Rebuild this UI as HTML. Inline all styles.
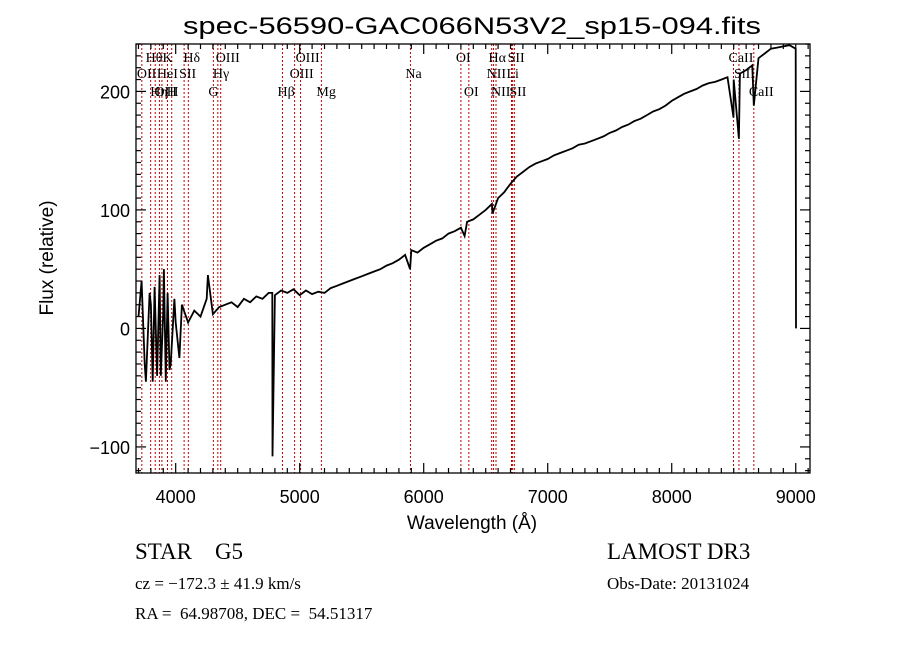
<!DOCTYPE html>
<html><head><meta charset="utf-8"><style>
html,body{margin:0;padding:0;background:#fff;}
svg{display:block;}
text{fill:#000;white-space:pre;}
</style></head><body>
<svg id="chart" width="900" height="649" viewBox="0 0 900 649" xmlns="http://www.w3.org/2000/svg">
<rect width="900" height="649" fill="#fff"/>
<text x="472" y="34" text-anchor="middle" font-family="Liberation Sans, sans-serif" font-size="24" textLength="578" lengthAdjust="spacingAndGlyphs">spec-56590-GAC066N53V2_sp15-094.fits</text>
<g id="lines"></g>
<g id="labels"></g>
<path id="spec" fill="none" stroke="#000" stroke-width="1.8"/>
<g id="axes"></g>
<text x="472" y="529" text-anchor="middle" font-family="Liberation Sans, sans-serif" font-size="19">Wavelength (Å)</text>
<text transform="translate(53,258) rotate(-90)" text-anchor="middle" font-family="Liberation Sans, sans-serif" font-size="19">Flux (relative)</text>
<text x="135" y="559" font-family="Liberation Serif, serif" font-size="23" xml:space="preserve">STAR    G5</text>
<text x="607" y="559" font-family="Liberation Serif, serif" font-size="23">LAMOST DR3</text>
<text x="135" y="589" font-family="Liberation Serif, serif" font-size="17">cz = −172.3 ± 41.9 km/s</text>
<text x="607" y="589" font-family="Liberation Serif, serif" font-size="17">Obs-Date: 20131024</text>
<text x="135" y="619" font-family="Liberation Serif, serif" font-size="17" xml:space="preserve">RA =  64.98708, DEC =  54.51317</text>
</svg>
<script>
const wlStart = 3700, wlStep = 50;
const flux = [10,-30,20,-40,15,-35,5,20,5,15,10,25,12,18,20,22,18,25,22,27,25,30,28,32,30,33,28,32,29,31,30,34,36,38,40,42,44,46,48,50,53,55,58,62,66,64,68,71,74,76,80,82,85,90,92,96,100,105,110,115,122,128,132,136,139,141,143,146,148,150,152,155,156,158,160,162,165,167,170,172,175,177,180,183,185,188,192,195,198,200,202,205,207,208,210,212,210,215,218,222,228,232,236,237,238,239,236];
const spikeWl = [3725,3760,3790,3815,3830,3870,3880,3905,3920,3935,3960,3990,4030,4260,4779,4781,5890,6330,6555,8498,8542,8662,9000,9002];
const spikeFlux = [40,-45,30,-45,35,45,-40,50,-45,30,-30,25,-25,45,30,-108,50,78,97,178,160,188,236,0];
const lineWl = [3727,3798,3835,3869,3889,3934,3968,4068,4102,4304,4340,4363,4861,4959,5007,5175,5893,6300,6364,6548,6563,6583,6708,6717,6731,8498,8542,8662];
const lineLab = ["OII","Hθ","Hη","OIII","HeI","K","H","SII","Hδ","G","Hγ","OIII","Hβ","OIII","OIII","Mg","Na","OI","OI","NII","Hα","NII","Li","SII","SII","CaII","SiII","CaII"];
const lineRow = [1,0,2,2,1,0,2,1,0,2,1,0,2,1,0,2,1,0,2,1,0,2,1,0,2,0,1,2];
const xTicks = [4000,5000,6000,7000,8000,9000];
const yTicks = [-100,0,100,200];

const L=136,R=810,T=44,B=473, X0=3680,X1=9115,Y0=-122,Y1=240;
const xs = w => L + (w-X0)/(X1-X0)*(R-L);
const ys = f => B - (f-Y0)/(Y1-Y0)*(B-T);
const NS="http://www.w3.org/2000/svg";

let pts = flux.map((f,i)=>[wlStart+i*wlStep,f]);
spikeWl.forEach((w,i)=>pts.push([w,spikeFlux[i]]));
pts.sort((a,b)=>a[0]-b[0]);
document.getElementById('spec').setAttribute('d', pts.map((p,i)=>(i?'L':'M')+xs(p[0]).toFixed(1)+','+ys(Math.max(Y0,Math.min(Y1,p[1]))).toFixed(1)).join(''));

const lg=document.getElementById('lines'), lb=document.getElementById('labels');
lineWl.forEach((w,i)=>{
  const l=document.createElementNS(NS,'line');
  
  
  l.setAttribute('x1',xs(w));l.setAttribute('x2',xs(w));l.setAttribute('y1',T);l.setAttribute('y2',B);
  l.setAttribute('stroke','#c00000');l.setAttribute('stroke-width','1');l.setAttribute('stroke-dasharray','2,2');
  lg.appendChild(l);
  const t=document.createElementNS(NS,'text');
  
  
  t.setAttribute('x',xs(w)-5);t.setAttribute('y',[62,78,96][lineRow[i]]);
  t.setAttribute('font-family','Liberation Serif, serif');t.setAttribute('font-size','14');
  t.textContent=lineLab[i];
  lb.appendChild(t);
});

const ax=document.getElementById('axes');
function ln(x1,y1,x2,y2,nm){const l=document.createElementNS(NS,'line');
  
  
  l.setAttribute('x1',x1);l.setAttribute('y1',y1);l.setAttribute('x2',x2);l.setAttribute('y2',y2);
  l.setAttribute('stroke','#000');l.setAttribute('stroke-width','1.2');ax.appendChild(l);}
const fr=document.createElementNS(NS,'rect');


fr.setAttribute('x',L);fr.setAttribute('y',T);fr.setAttribute('width',R-L);fr.setAttribute('height',B-T);
fr.setAttribute('fill','none');fr.setAttribute('stroke','#000');fr.setAttribute('stroke-width','1.3');ax.appendChild(fr);
for(let w=3700;w<=9100;w+=100){const x=xs(w),maj=w%1000===0,len=maj?10:5;
  ln(x,B,x,B-len,'x-tick');ln(x,T,x,T+len,'x-tick');}
for(let f=-120;f<=240;f+=10){const y=ys(f),maj=f%100===0,len=maj?10:5;
  ln(L,y,L+len,y,'y-tick');ln(R,y,R-len,y,'y-tick');}
xTicks.forEach(v=>{const t=document.createElementNS(NS,'text');
  
  
  t.setAttribute('x',xs(v));t.setAttribute('y',503);t.setAttribute('text-anchor','middle');
  t.setAttribute('font-family','Liberation Sans, sans-serif');t.setAttribute('font-size','18');t.textContent=v;ax.appendChild(t);});
yTicks.forEach(v=>{const t=document.createElementNS(NS,'text');
  
  
  t.setAttribute('x',130);t.setAttribute('y',ys(v)+7);t.setAttribute('text-anchor','end');
  t.setAttribute('font-family','Liberation Sans, sans-serif');t.setAttribute('font-size','18');t.textContent=(v<0?'−':'')+Math.abs(v);ax.appendChild(t);});
</script>
</body></html>
